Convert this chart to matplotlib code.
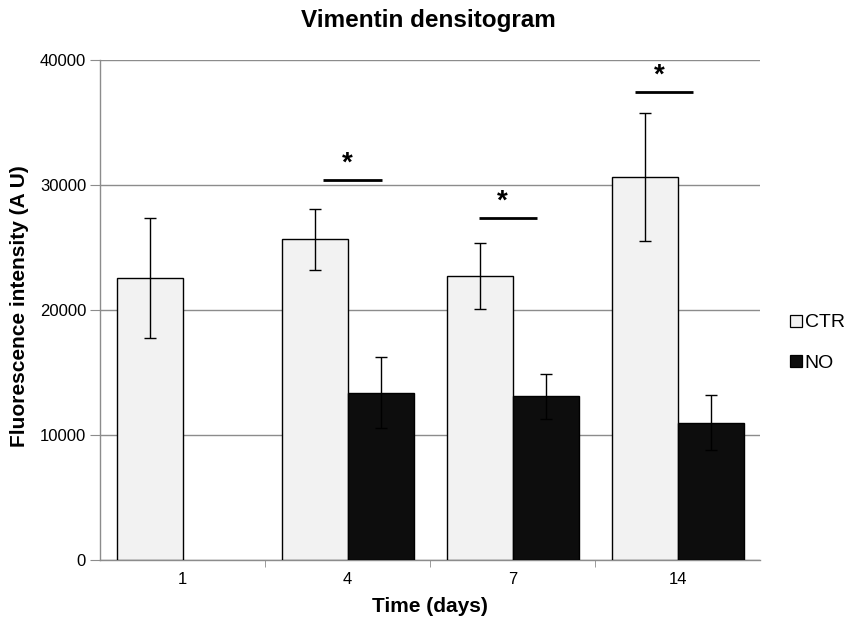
import matplotlib
matplotlib.use("Agg")
import matplotlib.pyplot as plt
import numpy as np
from matplotlib.lines import Line2D

plt.rcParams['font.family'] = ['Liberation Sans', 'DejaVu Sans']

days = ["1", "4", "7", "14"]
ctr_vals = [22600, 25650, 22700, 30650]
ctr_err = [4800, 2450, 2650, 5100]
no_vals = [np.nan, 13400, 13100, 11000]
no_err = [np.nan, 2870, 1800, 2200]
y_ticks = [0, 10000, 20000, 30000, 40000]
# significance bars: (category index, left offset, right offset, y, star offset)
sig_cat = [1, 2, 3]
sig_left = [-0.147, -0.205, -0.26]
sig_right = [0.208, 0.151, 0.094]
sig_y = [30400, 27350, 37450]
sig_star = [0.0, -0.06, -0.11]

fig = plt.figure(figsize=(8.53, 6.3), dpi=100)
ax = fig.add_axes([100/853, 70/630, 660/853, 500/630])

x = np.arange(len(days))
w = 0.4
ax.bar(x - w/2, ctr_vals, w, color='#f2f2f2', edgecolor='black', linewidth=1.0, zorder=3)
ax.bar(x + w/2, no_vals, w, color='#0d0d0d', edgecolor='black', linewidth=1.0, zorder=3)
ax.errorbar(x - w/2, ctr_vals, yerr=ctr_err, fmt='none', ecolor='black', elinewidth=1.0,
            capsize=4, capthick=1.0, zorder=4)
ax.errorbar(x + w/2, no_vals, yerr=no_err, fmt='none', ecolor='black', elinewidth=1.0,
            capsize=4, capthick=1.0, zorder=4)

for c, l, r, yy, s in zip(sig_cat, sig_left, sig_right, sig_y, sig_star):
    ax.plot([c + l, c + r], [yy, yy], color='black', lw=2, solid_capstyle='butt', zorder=5)
    ax.text(c + s, yy + 250, "*", ha='center', va='bottom', fontsize=20, fontweight='bold')

ax.set_xlim(-0.5, 3.5)
ax.set_ylim(0, 40000)
ax.set_yticks(y_ticks)
ax.set_yticklabels([str(v) for v in y_ticks], fontsize=12)
ax.yaxis.grid(True, color='#8c8c8c', lw=1.0, zorder=0)
ax.set_axisbelow(True)

ax.set_xticks(x)
ax.set_xticklabels(days, fontsize=12)
ax.tick_params(axis='x', length=0, pad=9)
ax.set_xticks([0.5, 1.5, 2.5], minor=True)
ax.tick_params(axis='x', which='minor', length=5, color='#8c8c8c', direction='out')
ax.tick_params(axis='y', length=7, color='#8c8c8c', direction='out', pad=3)

for sp in ['top', 'right']:
    ax.spines[sp].set_visible(False)
for sp in ['left', 'bottom']:
    ax.spines[sp].set_color('#8c8c8c')
    ax.spines[sp].set_linewidth(1.0)

fig.text(430/853, 1 - 607/630, "Time (days)", ha='center', va='center',
         fontsize=15, fontweight='bold')
fig.text(20/853, 1 - 306/630, "Fluorescence intensity (A U)", ha='center', va='center',
         rotation=90, fontsize=15, fontweight='bold')
fig.text(428/853, 1 - 21/630, "Vimentin densitogram", ha='center', va='center',
         fontsize=17.5, fontweight='bold')

handles = [Line2D([], [], marker='s', ls='none', markersize=8, markerfacecolor='#f2f2f2',
                  markeredgecolor='black', markeredgewidth=0.9),
           Line2D([], [], marker='s', ls='none', markersize=8, markerfacecolor='#0d0d0d',
                  markeredgecolor='black', markeredgewidth=0.9)]
fig.legend(handles, ["CTR", "NO"], loc='center left', bbox_to_anchor=(790/853, 1 - 343/630),
           frameon=False, fontsize=14, handlelength=0.6, handletextpad=0.15, labelspacing=1.2,
           borderaxespad=0, borderpad=0)

fig.savefig("out.png", dpi=100)
